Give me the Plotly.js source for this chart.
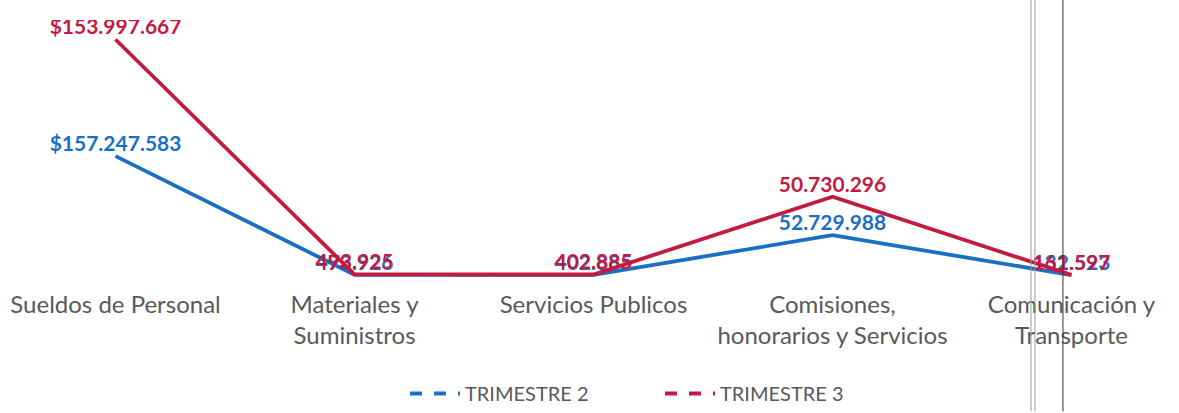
<!DOCTYPE html>
<html>
<head>
<meta charset="utf-8">
<script src="https://cdn.plot.ly/plotly-3.0.1.min.js"></script>
<style>html,body{margin:0;padding:0;background:#fff;}#chart{width:1179px;height:413px;}</style>
</head>
<body>
<div id="chart"></div>
<script>
const categories = ['Sueldos de Personal', 'Materiales y<br>Suministros', 'Servicios Publicos', 'Comisiones,<br>honorarios y Servicios', 'Comunicación y<br>Transporte'];
const trimestre2 = [157247583, 473926, 402885, 52729988, 132523];
const trimestre3 = [153997667, 493925, 402885, 50730296, 161597];
const seriesNames = ['TRIMESTRE 2', 'TRIMESTRE 3'];

const BLUE = '#1a6fc4';
const RED = '#c51a40';

function fmt(v, i) {
  const s = String(v).replace(/\B(?=(\d{3})+(?!\d))/g, '.');
  return (i === 0 ? '$' : '') + s;
}

const labelFont = {family: 'Lato, "Open Sans", sans-serif', size: 21, weight: 'bold'};

const traces = [
  {
    x: categories, y: trimestre2, name: seriesNames[0], type: 'scatter', mode: 'lines+text',
    stackgroup: 'one', fill: 'none', showlegend: false,
    line: {color: BLUE, width: 3.8},
    text: trimestre2.map(fmt), textposition: 'top center',
    textfont: Object.assign({color: BLUE}, labelFont), hoverinfo: 'skip'
  },
  {
    x: categories, y: trimestre3, name: seriesNames[1], type: 'scatter', mode: 'lines+text',
    stackgroup: 'one', fill: 'none', showlegend: false,
    line: {color: RED, width: 3.8},
    text: trimestre3.map(fmt), textposition: 'top center',
    textfont: Object.assign({color: RED}, labelFont), hoverinfo: 'skip'
  },
  {
    x: [categories[0]], y: [null], name: seriesNames[0], type: 'scatter', mode: 'lines',
    line: {color: BLUE, width: 4, dash: 'dash'}, showlegend: true, hoverinfo: 'skip'
  },
  {
    x: [categories[0]], y: [null], name: seriesNames[1], type: 'scatter', mode: 'lines',
    line: {color: RED, width: 4, dash: 'dash'}, showlegend: true, hoverinfo: 'skip'
  }
];

const layout = {
  width: 1179, height: 413,
  margin: {l: 8, r: 0, t: 20, b: 123},
  paper_bgcolor: '#ffffff', plot_bgcolor: '#ffffff',
  showlegend: true,
  legend: {
    orientation: 'h', x: 0.339, xanchor: 'left', y: -0.396, yanchor: 'middle',
    bgcolor: 'rgba(0,0,0,0)',
    font: {family: 'Lato, "Open Sans", sans-serif', size: 20, color: '#595959'},
    itemwidth: 50, entrywidth: 190
  },
  xaxis: {
    type: 'category', range: [-0.45, 4.45],
    showgrid: false, zeroline: false, showline: false, ticks: '',
    tickfont: {family: 'Lato, "Open Sans", sans-serif', size: 24, color: '#595959'}
  },
  yaxis: {
    range: [-17e6, 337e6], visible: false, showgrid: false, zeroline: false
  },
  shapes: [
    {type: 'line', xref: 'paper', yref: 'paper', x0: 0.8736, x1: 0.8736, y0: -0.46, y1: 1.08, line: {color: '#9a9a9a', width: 1}},
    {type: 'line', xref: 'paper', yref: 'paper', x0: 0.8770, x1: 0.8770, y0: -0.46, y1: 1.08, line: {color: '#9a9a9a', width: 1}},
    {type: 'line', xref: 'paper', yref: 'paper', x0: 0.9009, x1: 0.9009, y0: -0.46, y1: 1.08, line: {color: '#333333', width: 1}}
  ]
};

Plotly.newPlot('chart', traces, layout, {displayModeBar: false, staticPlot: true});
</script>
</body>
</html>
